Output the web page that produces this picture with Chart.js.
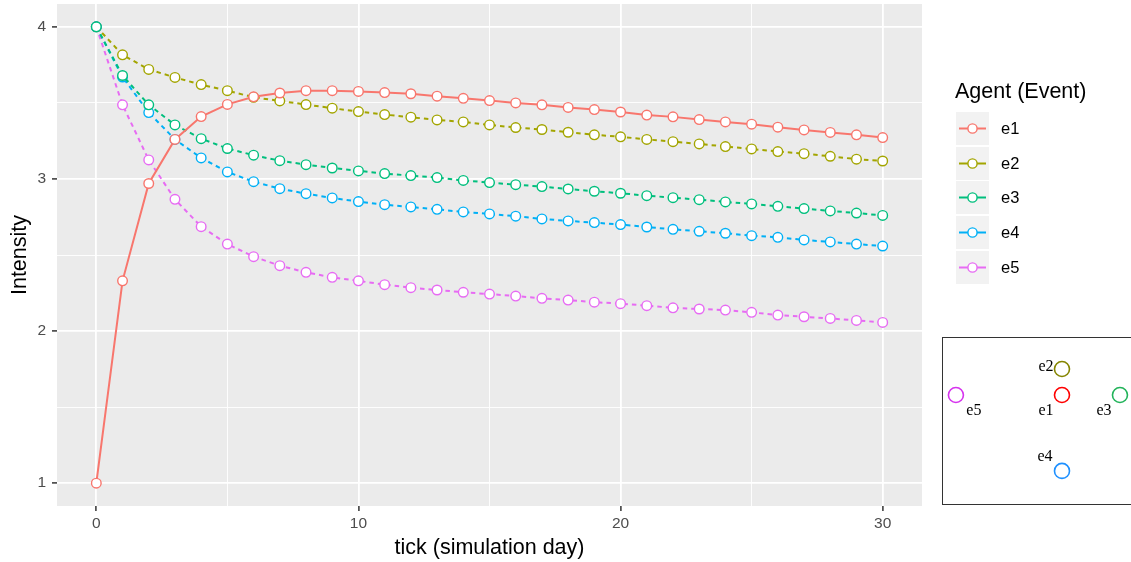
<!DOCTYPE html>
<html lang="en">
<head>
<meta charset="UTF-8">
<title>Agent intensity</title>
<script src="https://cdn.jsdelivr.net/npm/chart.js"></script>
<style>
  html, body { margin: 0; padding: 0; background: #fff; overflow: hidden; }
  #wrap { position: relative; width: 1131px; height: 562px; }
  #legend { position: absolute; left: 955px; top: 79px; font-family: "Liberation Sans", Arial, sans-serif; }
  #legend .title { font-size: 21.5px; color: #000; margin-bottom: 8px; white-space: nowrap; line-height: 25px; }
  #legend .row { display: flex; align-items: center; height: 33px; margin-bottom: 1.7px; }
  #legend .key { width: 33px; height: 33px; background: #f2f2f2; margin-left: 1px; }
  #legend .lab { font-size: 16.5px; margin-left: 12px; color: #000; }
  #inset { position: absolute; left: 942px; top: 337px; width: 230px; height: 166px; border: 1px solid #333; background: #fff; }
  #inset canvas { display: block; }
</style>
</head>
<body>
<div id="wrap">
  <canvas id="myChart" width="1131" height="562"></canvas>
  <div id="legend"></div>
  <div id="inset"><canvas id="insetChart" width="230" height="166"></canvas></div>
</div>
<script>
// x: simulation day
const days = [0,1,2,3,4,5,6,7,8,9,10,11,12,13,14,15,16,17,18,19,20,21,22,23,24,25,26,27,28,29,30];

const e1 = [1, 2.33, 2.97, 3.26, 3.41, 3.49, 3.54, 3.565, 3.58, 3.58, 3.575, 3.568, 3.56, 3.544, 3.53, 3.515, 3.50, 3.487, 3.47, 3.456, 3.44, 3.42, 3.408, 3.39, 3.375, 3.36, 3.34, 3.322, 3.306, 3.29, 3.272];
const e2 = [4, 3.816, 3.72, 3.667, 3.62, 3.58, 3.537, 3.513, 3.489, 3.465, 3.443, 3.423, 3.406, 3.388, 3.375, 3.355, 3.338, 3.325, 3.307, 3.29, 3.277, 3.26, 3.245, 3.23, 3.213, 3.197, 3.18, 3.166, 3.149, 3.13, 3.118];
const e3 = [4, 3.68, 3.487, 3.355, 3.265, 3.20, 3.156, 3.12, 3.094, 3.072, 3.053, 3.035, 3.022, 3.009, 2.99, 2.976, 2.962, 2.95, 2.934, 2.919, 2.906, 2.89, 2.877, 2.864, 2.849, 2.836, 2.82, 2.805, 2.79, 2.776, 2.76];
const e4 = [4, 3.67, 3.436, 3.26, 3.138, 3.046, 2.982, 2.936, 2.903, 2.875, 2.851, 2.831, 2.816, 2.80, 2.783, 2.77, 2.755, 2.737, 2.724, 2.713, 2.70, 2.684, 2.669, 2.656, 2.643, 2.627, 2.616, 2.599, 2.586, 2.572, 2.559];
const e5 = [4, 3.487, 3.125, 2.866, 2.686, 2.572, 2.489, 2.43, 2.386, 2.353, 2.33, 2.305, 2.285, 2.27, 2.255, 2.243, 2.23, 2.215, 2.204, 2.19, 2.18, 2.167, 2.153, 2.145, 2.138, 2.123, 2.105, 2.094, 2.083, 2.07, 2.057];

const agents = ['e1', 'e2', 'e3', 'e4', 'e5'];
const series = [e1, e2, e3, e4, e5];

const xTicks = [0, 5, 10, 15, 20, 25, 30];
const yTicks = [1, 1.5, 2, 2.5, 3, 3.5, 4];

// inset layout (agent positions)
const insetX = [0, 0, 2.23, 0, -4.08];
const insetY = [0, 1, 0, -2.92, 0];

// styling
const colors = ['#F8766D', '#A3A500', '#00BF7D', '#00B0F6', '#E76BF3'];
const insetColors = ['#ff0000', '#858500', '#22b35a', '#1e90ff', '#d633ee'];
const drawOrder = [0, 3, 1, 2, 4];
const labelOffsets = [[-16, 16], [-16, -2], [-16, 16], [-17, -14], [18, 16]];

const panelBg = {
  id: 'panelBg',
  beforeDraw(chart) {
    const {ctx, chartArea: a} = chart;
    ctx.save();
    ctx.fillStyle = '#ebebeb';
    ctx.fillRect(a.left, a.top, a.right - a.left, a.bottom - a.top);
    ctx.restore();
  }
};

const datasets = series.map((s, i) => ({
  label: agents[i],
  data: days.map((d, j) => ({x: d, y: s[j]})),
  borderColor: colors[i],
  borderWidth: 2,
  borderDash: i === 0 ? [] : [4.5, 4],
  pointRadius: 4.8,
  pointBorderWidth: 1.4,
  pointBackgroundColor: '#ffffff',
  pointBorderColor: colors[i],
  tension: 0,
  order: drawOrder[i]
}));

const xMajor = v => v % 10 === 0;
const yMajor = v => Number.isInteger(v);

const config = {
  type: 'line',
  data: { datasets: datasets },
  options: {
    responsive: false,
    animation: false,
    layout: { autoPadding: false, padding: { top: 4, right: 209, left: 0, bottom: 0 } },
    plugins: { legend: { display: false }, tooltip: { enabled: false } },
    scales: {
      x: {
        type: 'linear',
        min: -1.5,
        max: 31.5,
        afterBuildTicks: s => { s.ticks = xTicks.map(v => ({value: v})); },
        afterFit: s => { s.height = 56; s.paddingLeft = 0; s.paddingRight = 0; },
        border: { display: false },
        grid: {
          color: '#ffffff',
          lineWidth: c => xMajor(c.tick.value) ? 1.8 : 0.9,
          tickColor: c => xMajor(c.tick.value) ? '#333333' : 'rgba(0,0,0,0)',
          tickLength: 5,
          tickWidth: 1.5
        },
        ticks: {
          padding: 3,
          color: '#4d4d4d',
          font: { family: 'Liberation Sans', size: 15.5 },
          callback: v => xMajor(v) ? String(v) : ''
        },
        title: {
          display: true,
          text: 'tick (simulation day)',
          color: '#000',
          font: { family: 'Liberation Sans', size: 21.5 },
          padding: { top: 0, bottom: 1 }
        }
      },
      y: {
        type: 'linear',
        min: 0.85,
        max: 4.15,
        afterBuildTicks: s => { s.ticks = yTicks.map(v => ({value: v})); },
        afterFit: s => { s.width = 57; s.paddingTop = 0; s.paddingBottom = 0; },
        border: { display: false },
        grid: {
          color: '#ffffff',
          lineWidth: c => yMajor(c.tick.value) ? 1.8 : 0.9,
          tickColor: c => yMajor(c.tick.value) ? '#333333' : 'rgba(0,0,0,0)',
          tickLength: 5,
          tickWidth: 1.5
        },
        ticks: {
          padding: 6,
          color: '#4d4d4d',
          font: { family: 'Liberation Sans', size: 15.5 },
          callback: v => yMajor(v) ? String(v) : ''
        },
        title: {
          display: true,
          text: 'Intensity',
          color: '#000',
          font: { family: 'Liberation Sans', size: 21.5 },
          padding: { top: 7, bottom: 0 }
        }
      }
    }
  },
  plugins: [panelBg]
};

let myChart = new Chart(document.querySelector('#myChart'), config);

// legend
const legend = document.querySelector('#legend');
let html = '<div class="title">Agent (Event)</div>';
agents.forEach((a, i) => {
  html += '<div class="row"><div class="key"><svg width="33" height="33">' +
    '<line x1="3" y1="16.5" x2="30" y2="16.5" stroke="' + colors[i] + '" stroke-width="2"/>' +
    '<circle cx="16.5" cy="16.5" r="4.6" fill="#fff" stroke="' + colors[i] + '" stroke-width="1.4"/>' +
    '</svg></div><div class="lab">' + a + '</div></div>';
});
legend.innerHTML = html;

// inset: agent layout
const insetLabels = {
  id: 'insetLabels',
  afterDatasetsDraw(chart) {
    const ctx = chart.ctx;
    const pts = chart.getDatasetMeta(0).data;
    ctx.save();
    ctx.font = '16px "Liberation Serif", "DejaVu Serif", serif';
    ctx.fillStyle = '#000';
    ctx.textAlign = 'center';
    ctx.textBaseline = 'middle';
    pts.forEach((p, i) => {
      ctx.fillText(agents[i], p.x + labelOffsets[i][0], p.y + labelOffsets[i][1]);
    });
    ctx.restore();
  }
};

new Chart(document.querySelector('#insetChart'), {
  type: 'scatter',
  data: {
    datasets: [{
      data: insetX.map((x, i) => ({x: x, y: insetY[i]})),
      pointRadius: 7.5,
      pointBorderWidth: 1.6,
      pointBackgroundColor: 'rgba(0,0,0,0)',
      pointBorderColor: insetColors
    }]
  },
  options: {
    responsive: false,
    animation: false,
    layout: { autoPadding: false, padding: 0 },
    plugins: { legend: { display: false }, tooltip: { enabled: false } },
    scales: {
      x: { display: false, min: -4.577, max: 4.27 },
      y: { display: false, min: -4.192, max: 2.192 }
    }
  },
  plugins: [insetLabels]
});
</script>
</body>
</html>
